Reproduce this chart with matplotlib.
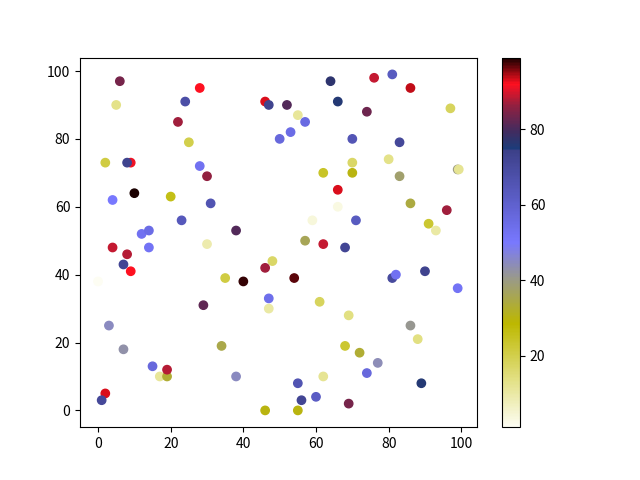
import numpy as np
import matplotlib
matplotlib.use("Agg")
import matplotlib.pyplot as plt
from matplotlib.colors import LinearSegmentedColormap

plt.rcParams['font.family'] = ['Noto Sans CJK SC', 'DejaVu Sans']

# point positions and colour values
x = [6, 5, 24, 28, 22, 25, 2, 9, 8, 10, 20, 28, 30, 4, 31, 23, 12, 14, 14, 38,
     30, 4, 8, 7, 9, 0, 35, 40, 48, 46, 47, 47, 29, 3, 7, 34, 15, 17, 19, 19,
     38, 2, 1, 46, 46, 47, 52, 55, 57, 53, 50, 64, 66, 70, 76, 81, 86, 74, 83, 97,
     62, 70, 70, 80, 83, 66, 59, 66, 71, 86, 91, 93, 96, 99, 99.3, 57, 62, 68, 54, 61,
     69, 81, 82, 90, 99, 86, 88, 68, 72, 77, 74, 62, 55, 56, 60, 55, 69, 89]
y = [97, 90, 91, 95, 85, 79, 73, 73, 73, 64, 63, 72, 69, 62, 61, 56, 52, 53, 48, 53,
     49, 48, 46, 43, 41, 38, 39, 38, 44, 42, 33, 30, 31, 25, 18, 19, 13, 10, 10, 12,
     10, 5, 3, 0, 91, 90, 90, 87, 85, 82, 80, 97, 91, 80, 98, 99, 95, 88, 79, 89,
     70, 73, 70, 74, 69, 65, 56, 60, 56, 61, 55, 53, 59, 71, 71, 50, 49, 48, 39, 32,
     28, 39, 40, 41, 36, 25, 21, 19, 17, 14, 11, 10, 8, 3, 4, 0, 2, 8]
c = [84, 13, 68, 92, 87, 20, 21, 91, 73, 99, 26, 53, 86, 50, 66, 64, 53, 55, 52, 81,
     9, 89, 88, 72, 92, 1, 21, 98, 17, 87, 54, 10, 82, 45, 43, 35, 57, 11, 33, 88,
     45, 93, 71, 30, 93, 73, 81, 11, 56, 55, 57, 77, 76, 65, 89, 63, 94, 83, 71, 18,
     24, 17, 30, 13, 38, 93, 4, 3, 63, 34, 23, 10, 87, 40, 12, 36, 89, 72, 97, 18,
     14, 70, 53, 73, 52, 41, 14, 23, 33, 44, 57, 12, 66, 72, 62, 30, 84, 76]

stops = [0.0, 0.12, 0.28, 0.40, 0.50, 0.75, 0.755, 0.80, 0.87, 0.93, 1.0]
colors = ['#fdfdf3', '#e4e28a', '#bdb800', '#9a9a88', '#7878ff', '#3c4088',
          '#1c3c7a', '#402c60', '#902040', '#ff1020', '#1a0000']
cmap = LinearSegmentedColormap.from_list('custom', list(zip(stops, colors)))

fig, ax = plt.subplots(figsize=(6.4, 4.8), dpi=100)
sc = ax.scatter(x, y, c=c, cmap=cmap)
fig.colorbar(sc, ax=ax)
fig.savefig('out.png')
